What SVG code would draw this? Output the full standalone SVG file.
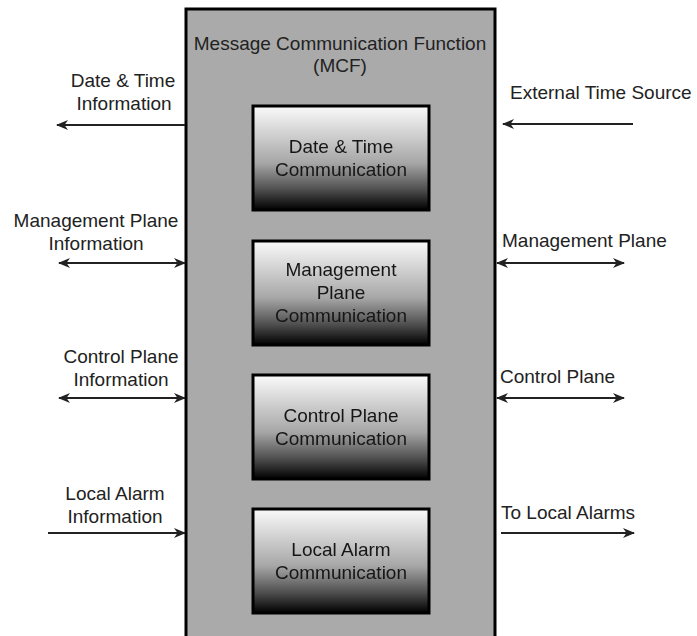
<svg xmlns="http://www.w3.org/2000/svg" width="697" height="636" viewBox="0 0 697 636">
  <style>
    .lbl { font-family: "Liberation Sans", Arial, sans-serif; font-size: 19px; fill: #222; }
    .mid { text-anchor: middle; }
    .inner { font-family: "Liberation Sans", Arial, sans-serif; font-size: 19px; fill: #161616; text-anchor: middle; filter: url(#soft); }
    .box { stroke: #000; stroke-width: 3; fill: url(#grad); }
    .wire { stroke: #222; stroke-width: 2.2; fill: none; }
  </style>
  <defs>
    <linearGradient id="grad" x1="0" y1="0" x2="0" y2="1">
      <stop offset="0" stop-color="#fafafa"/>
      <stop offset="0.55" stop-color="#a6a6a6"/>
      <stop offset="0.8" stop-color="#505050"/>
      <stop offset="1" stop-color="#000000"/>
    </linearGradient>
    <filter id="soft" x="-10%" y="-30%" width="120%" height="160%">
      <feGaussianBlur stdDeviation="0.45"/>
    </filter>
    <marker id="head" markerUnits="userSpaceOnUse" markerWidth="14" markerHeight="12" refX="11" refY="6" orient="auto-start-reverse">
      <path d="M0,1 L12,6 L0,11 L3.5,6 Z" fill="#222"/>
    </marker>
  </defs>

  <!-- container -->
  <g id="mcf">
    <rect x="186" y="9" width="309" height="640" fill="#aaaaaa" stroke="#000" stroke-width="3"/>
    <text class="lbl mid" x="340" y="50">Message Communication Function</text>
    <text class="lbl mid" x="340" y="72">(MCF)</text>
  </g>

  <g id="date-time-communication">
    <rect class="box" x="253" y="106" width="176" height="104"/>
    <text class="inner" x="341" y="153">Date &amp; Time</text>
    <text class="inner" x="341" y="176">Communication</text>
  </g>

  <g id="management-plane-communication">
    <rect class="box" x="253" y="241" width="176" height="104"/>
    <text class="inner" x="341" y="276">Management</text>
    <text class="inner" x="341" y="299">Plane</text>
    <text class="inner" x="341" y="322">Communication</text>
  </g>

  <g id="control-plane-communication">
    <rect class="box" x="253" y="375" width="176" height="104"/>
    <text class="inner" x="341" y="422">Control Plane</text>
    <text class="inner" x="341" y="445">Communication</text>
  </g>

  <g id="local-alarm-communication">
    <rect class="box" x="253" y="509" width="176" height="104"/>
    <text class="inner" x="341" y="556">Local Alarm</text>
    <text class="inner" x="341" y="579">Communication</text>
  </g>

  <!-- connectors -->
  <g id="connectors">
    <path class="wire" d="M185,125 H57" marker-end="url(#head)"/>
    <path class="wire" d="M59,263 H185" marker-start="url(#head)" marker-end="url(#head)"/>
    <path class="wire" d="M59,398 H185" marker-start="url(#head)" marker-end="url(#head)"/>
    <path class="wire" d="M48,533 H185" marker-end="url(#head)"/>
    <path class="wire" d="M633,124 H503" marker-end="url(#head)"/>
    <path class="wire" d="M497,263 H624" marker-start="url(#head)" marker-end="url(#head)"/>
    <path class="wire" d="M497,398 H624" marker-start="url(#head)" marker-end="url(#head)"/>
    <path class="wire" d="M501,533 H634" marker-end="url(#head)"/>
  </g>

  <!-- connector labels -->
  <g id="labels">
    <text class="lbl mid" x="123" y="87">Date &amp; Time</text>
    <text class="lbl mid" x="124" y="110">Information</text>
    <text class="lbl mid" x="96" y="227">Management Plane</text>
    <text class="lbl mid" x="96" y="250">Information</text>
    <text class="lbl mid" x="121" y="363">Control Plane</text>
    <text class="lbl mid" x="121" y="386">Information</text>
    <text class="lbl mid" x="115" y="500">Local Alarm</text>
    <text class="lbl mid" x="115" y="523">Information</text>
    <text class="lbl" x="510" y="99">External Time Source</text>
    <text class="lbl" x="502" y="247">Management Plane</text>
    <text class="lbl" x="500" y="383">Control Plane</text>
    <text class="lbl" x="501" y="519">To Local Alarms</text>
  </g>
</svg>
